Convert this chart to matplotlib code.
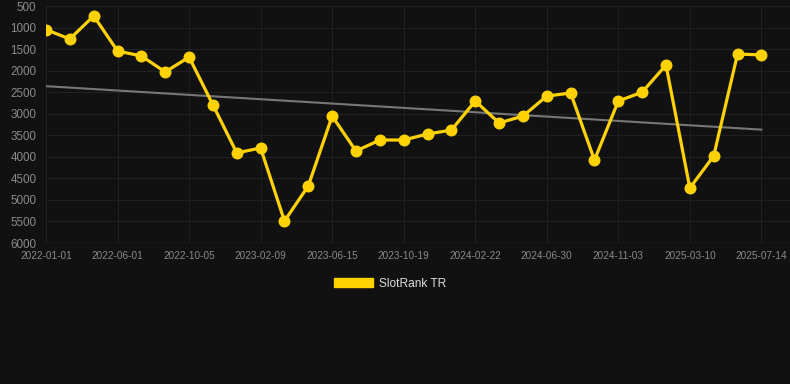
import matplotlib.pyplot as plt
import numpy as np
from matplotlib.patches import Patch

plt.rcParams['font.family'] = ['Liberation Sans', 'DejaVu Sans']

# SlotRank TR position, one point per period
ranks = [1050, 1265, 730, 1545, 1660, 2030, 1685, 2795, 3910, 3795,
         5490, 4675, 3055, 3865, 3610, 3610, 3470, 3380, 2705, 3215,
         3055, 2590, 2520, 4075, 2705, 2500, 1870, 4725, 3980, 1615, 1635]
tick_labels = ['2022-01-01', '2022-06-01', '2022-10-05', '2023-02-09', '2023-06-15',
               '2023-10-19', '2024-02-22', '2024-06-30', '2024-11-03', '2025-03-10',
               '2025-07-14']
y_ticks = [500, 1000, 1500, 2000, 2500, 3000, 3500, 4000, 4500, 5000, 5500, 6000]

bg = '#111111'
gold = '#ffd200'

x = np.arange(len(ranks))
# linear trend
k, b = np.polyfit(x, ranks, 1)

fig = plt.figure(figsize=(7.9, 3.84), dpi=100, facecolor=bg)
ax = fig.add_axes([46 / 790, 1 - 243 / 384, 1 - 46 / 790, 237 / 384])
ax.set_facecolor(bg)

ax.plot(x, k * x + b, color='#777777', lw=1.5, zorder=2)
ax.plot(x, ranks, color=gold, lw=2.3, marker='o', markersize=7.6, zorder=3)

ax.set_ylim(6000, 500)
ax.set_xlim(0, 31.2)
ax.set_yticks(y_ticks)
ax.set_xticks(x[::3])
ax.set_xticklabels(tick_labels)
ax.tick_params(axis='y', colors='#8a8a8a', labelsize=8.4, length=0, pad=7)
ax.tick_params(axis='x', colors='#8a8a8a', labelsize=7.2, length=0, pad=6)
ax.grid(True, color='#202020', lw=0.8)
for s in ax.spines.values():
    s.set_visible(False)
ax.axhline(6000, color='#2e2e2e', lw=1, zorder=1)

fig.legend(handles=[Patch(color=gold, label='SlotRank TR')], loc='center',
           bbox_to_anchor=(0.5 - 5 / 790, 1 - 284 / 384), frameon=False, fontsize=8.6,
           labelcolor='#dddddd', handlelength=3.3, handleheight=0.8, handletextpad=0.5)

fig.savefig('out.png', dpi=100, facecolor=bg)
